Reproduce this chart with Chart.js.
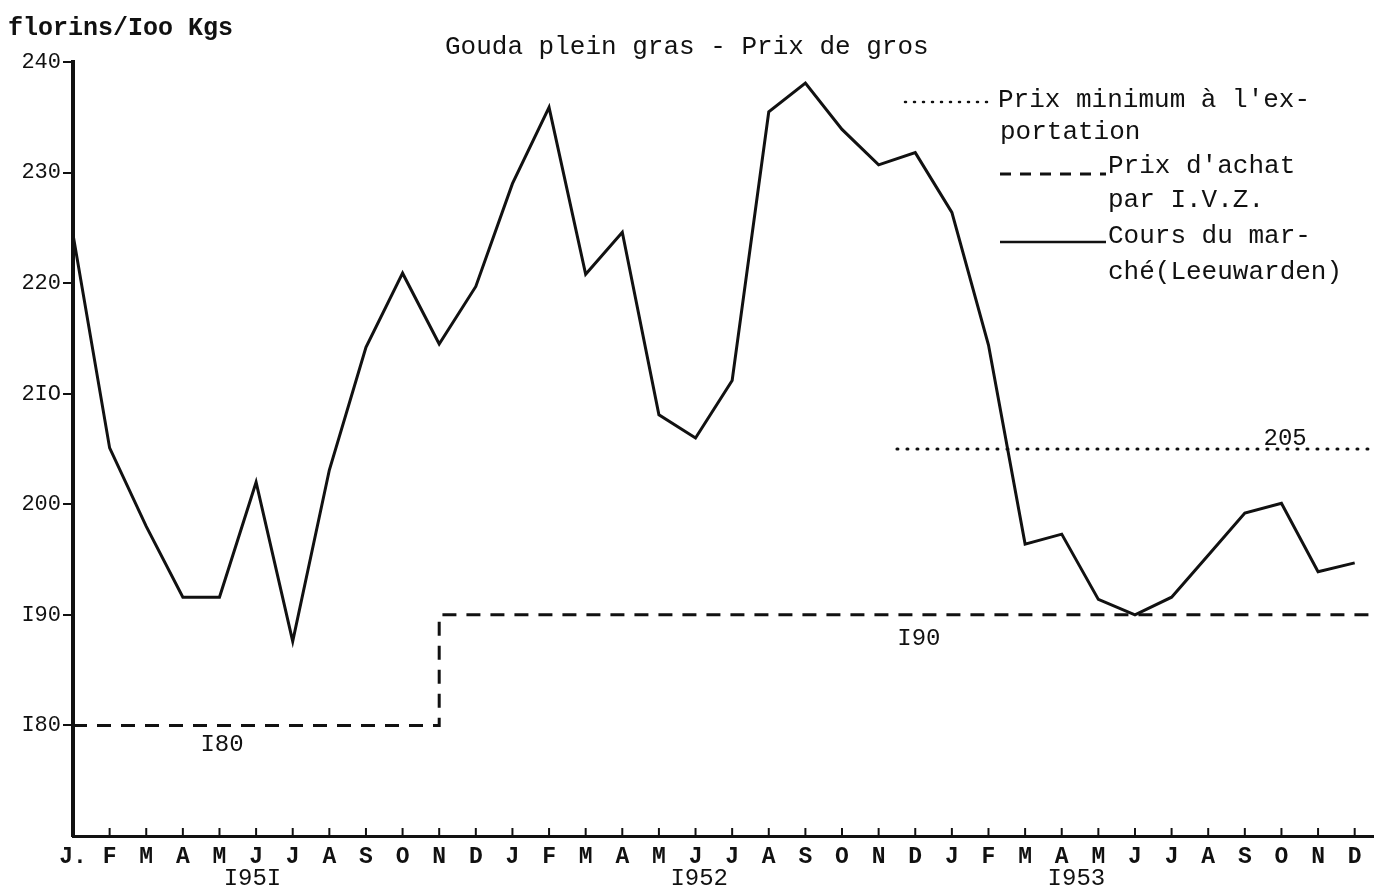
<!DOCTYPE html>
<html>
<head>
<meta charset="utf-8">
<script src="https://cdn.jsdelivr.net/npm/chart.js@4"></script>
<style>
  body { margin: 0; background: #fff; }
  canvas { display: block; }
</style>
</head>
<body>
<canvas id="myChart" width="1375" height="892"></canvas>
<script>
const ink = '#111';
const typeFont = '"Liberation Mono", "Courier New", monospace';

// months Jan 1951 .. Dec 1953
const months = [
    'J.', 'F', 'M', 'A', 'M', 'J', 'J', 'A', 'S', 'O', 'N', 'D',
    'J', 'F', 'M', 'A', 'M', 'J', 'J', 'A', 'S', 'O', 'N', 'D',
    'J', 'F', 'M', 'A', 'M', 'J', 'J', 'A', 'S', 'O', 'N', 'D',
];
const years = ['I95I', 'I952', 'I953'];
const yearCentres = [4.9, 17.1, 27.4];

// Cours du marché (Leeuwarden), florins / 100 kg
const marketPrice = [
    224.4, 205.1, 198.0, 191.6, 191.6, 202.0, 187.6, 203.1, 214.2, 220.9, 214.5, 219.7,
    229.0, 235.9, 220.8, 224.6, 208.1, 206.0, 211.2, 235.5, 238.1, 233.9, 230.7, 231.8,
    226.4, 214.4, 196.4, 197.3, 191.4, 190.0, 191.6, 195.4, 199.2, 200.1, 193.9, 194.7,
];

// Prix d'achat par I.V.Z. (step)
const ivzMonth = [0, 10, 10, 35.5];
const ivzPrice = [180, 180, 190, 190];

// Prix minimum à l'exportation
const exportMonth = [22.5, 35.5];
const exportPrice = [205, 205];

const yTickValues = [180, 190, 200, 210, 220, 230, 240];
const yTickLabels = ['I80', 'I90', '200', '2IO', '220', '230', '240'];

const paperText = {
    id: 'paperText',
    afterDraw(chart) {
        const ctx = chart.ctx;
        const x = chart.scales.x;
        const y = chart.scales.y;
        ctx.save();
        ctx.fillStyle = ink;
        ctx.strokeStyle = ink;
        ctx.textBaseline = 'middle';

        // little ticks standing up from the time axis
        ctx.lineWidth = 2;
        months.forEach((m, i) => {
            if (i === 0) return;
            const px = x.getPixelForValue(i);
            ctx.beginPath();
            ctx.moveTo(px, y.bottom);
            ctx.lineTo(px, y.bottom - 8);
            ctx.stroke();
        });

        ctx.textAlign = 'left';
        ctx.font = 'bold 25px ' + typeFont;
        ctx.fillText('florins/Ioo Kgs', 8, 29);
        ctx.font = '26px ' + typeFont;
        ctx.fillText('Gouda plein gras - Prix de gros', 445, 47);

        // years under the months
        ctx.textAlign = 'center';
        ctx.font = '24px ' + typeFont;
        years.forEach((yr, i) => {
            ctx.fillText(yr, x.getPixelForValue(yearCentres[i]), 879);
        });

        // values written on the lines
        ctx.fillText('205', x.getPixelForValue(33.1), y.getPixelForValue(205) - 10);
        ctx.fillText('I90', x.getPixelForValue(23.1), y.getPixelForValue(190) + 24);
        ctx.fillText('I80', x.getPixelForValue(4.07), y.getPixelForValue(180) + 19);

        // legend, typed at the right
        ctx.textAlign = 'left';
        ctx.font = '26px ' + typeFont;
        ctx.fillText("Prix minimum à l'ex-", 998, 100);
        ctx.fillText('portation', 1000, 132);
        ctx.fillText("Prix d'achat", 1108, 166);
        ctx.fillText('par I.V.Z.', 1108, 200);
        ctx.fillText('Cours du mar-', 1108, 236);
        ctx.fillText('ché(Leeuwarden)', 1108, 272);

        ctx.lineCap = 'round';
        ctx.lineWidth = 2.5;
        ctx.setLineDash([1, 8]);
        ctx.beginPath(); ctx.moveTo(905, 102); ctx.lineTo(994, 102); ctx.stroke();
        ctx.lineCap = 'butt';
        ctx.lineWidth = 3;
        ctx.setLineDash([11, 9]);
        ctx.beginPath(); ctx.moveTo(1000, 174); ctx.lineTo(1106, 174); ctx.stroke();
        ctx.setLineDash([]);
        ctx.lineWidth = 2.5;
        ctx.beginPath(); ctx.moveTo(1000, 242); ctx.lineTo(1106, 242); ctx.stroke();
        ctx.restore();
    }
};

const data = {
    datasets: [{
        label: 'Cours du marché (Leeuwarden)',
        data: marketPrice.map((v, i) => ({ x: i, y: v })),
        borderColor: ink,
        borderWidth: 3,
        borderJoinStyle: 'miter',
    }, {
        label: "Prix d'achat par I.V.Z.",
        data: ivzPrice.map((v, i) => ({ x: ivzMonth[i], y: v })),
        borderColor: ink,
        borderWidth: 3,
        borderDash: [14, 10],
    }, {
        label: "Prix minimum à l'exportation",
        data: exportPrice.map((v, i) => ({ x: exportMonth[i], y: v })),
        borderColor: ink,
        borderWidth: 3,
        borderDash: [1, 9],
        borderCapStyle: 'round',
    }]
};

const config = {
    type: 'line',
    data: data,
    options: {
        responsive: false,
        devicePixelRatio: 1,
        animation: false,
        layout: { padding: { top: 62, right: 2, left: 0, bottom: 0 } },
        elements: { point: { radius: 0 }, line: { tension: 0 } },
        plugins: { legend: { display: false }, tooltip: { enabled: false } },
        scales: {
            x: {
                type: 'linear',
                min: 0,
                max: 35.5,
                afterBuildTicks: s => { s.ticks = months.map((m, i) => ({ value: i })); },
                afterFit: s => { s.height = 56; },
                grid: { display: true, drawOnChartArea: false, drawTicks: false },
                border: { color: ink, width: 3 },
                ticks: {
                    padding: 7,
                    autoSkip: false,
                    maxRotation: 0,
                    color: ink,
                    font: { family: typeFont, size: 23, weight: 'bold' },
                    callback: (v, i) => months[i],
                },
            },
            y: {
                min: 170,
                max: 240,
                afterBuildTicks: s => { s.ticks = yTickValues.map(v => ({ value: v })); },
                afterFit: s => { s.width = 73; },
                grid: { drawOnChartArea: false, tickLength: 10, color: ink, lineWidth: 2 },
                border: { color: ink, width: 4 },
                ticks: {
                    padding: 2,
                    color: ink,
                    font: { family: typeFont, size: 22 },
                    callback: (v, i) => yTickLabels[i],
                },
            },
        },
    },
    plugins: [paperText],
};

const myChart = new Chart(document.getElementById('myChart'), config);
</script>
</body>
</html>
